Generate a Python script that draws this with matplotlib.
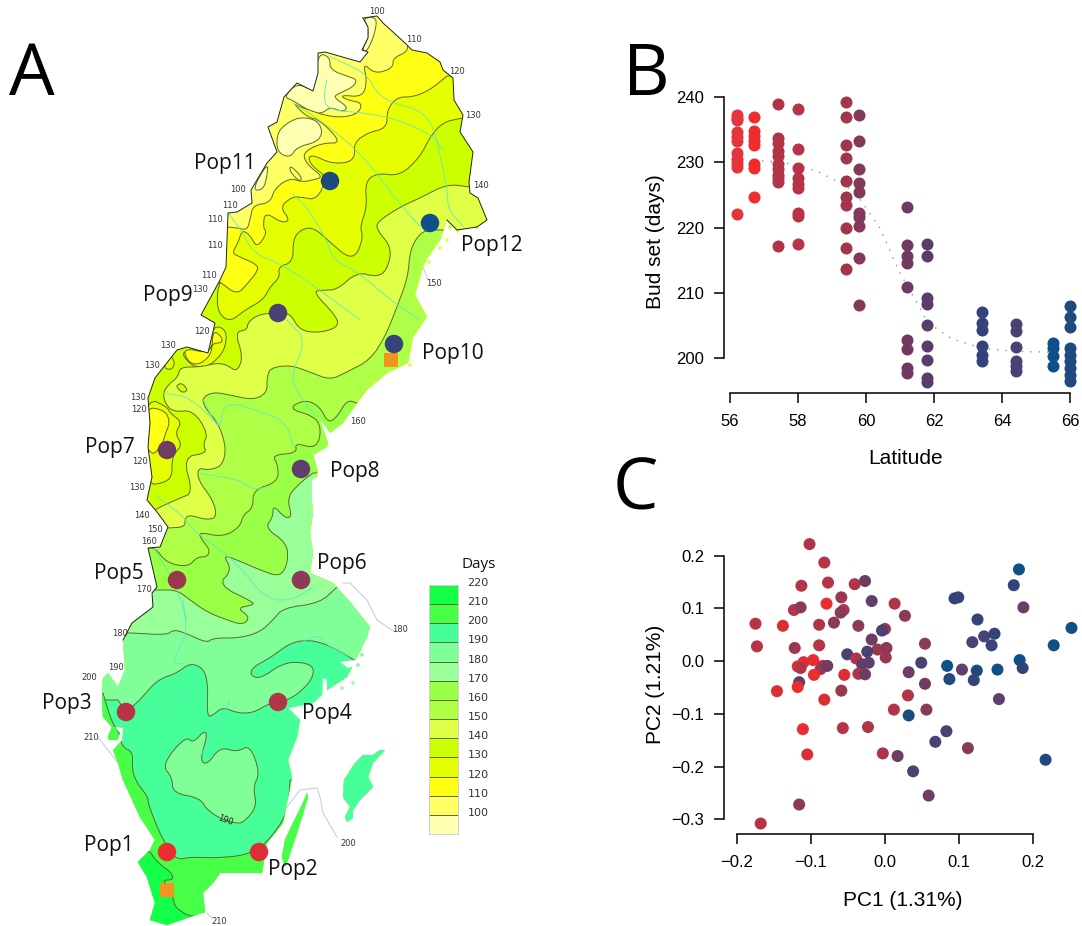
import matplotlib
matplotlib.use("Agg")
import matplotlib.pyplot as plt
from matplotlib.patches import Polygon, PathPatch
from matplotlib.path import Path

W, H = 1082, 926

# ---- panel B: bud set per latitude
lat_cols = [56.2, 56.7, 57.4, 58.0, 59.4, 59.8, 61.2, 61.8, 63.4, 64.4, 65.5, 66.0]
col_colors = ["#E5343A", "#EE2B2D", "#B03549", "#B73348", "#A2374C", "#83395A",
              "#70395F", "#5A3E6A", "#34447A", "#4A4272", "#0F508C", "#1F4A80"]
budset = [
    [237.3, 236.8, 236.5, 234.6, 233.9, 233.3, 231.4, 230.5, 229.9, 229.2, 222.0],
    [237.0, 234.8, 234.0, 233.2, 232.6, 229.7, 229.1, 224.7],
    [238.9, 233.7, 233.0, 231.7, 230.9, 229.7, 228.9, 228.1, 227.6, 226.9, 217.2],
    [238.1, 232.1, 229.1, 227.6, 226.6, 226.1, 222.2, 221.7, 217.5],
    [239.3, 237.0, 232.6, 230.7, 227.2, 224.7, 223.4, 220.0, 216.8, 213.6],
    [237.3, 233.3, 229.0, 226.8, 225.5, 222.2, 221.6, 220.3, 215.4, 208.1],
    [223.2, 217.3, 215.6, 214.6, 210.9, 202.7, 201.4, 198.5, 197.7],
    [217.5, 215.6, 209.2, 208.2, 205.0, 201.9, 199.7, 196.9, 196.3],
    [207.0, 205.4, 204.3, 201.9, 200.5, 199.5],
    [205.2, 204.1, 201.7, 199.5, 198.7, 198.0],
    [202.3, 201.5, 200.3, 198.7],
    [207.9, 206.3, 204.8, 201.5, 200.5, 199.5, 198.5, 197.4, 196.4],
]
curve_lat = [56.7, 57.4, 58.0, 58.6, 59.4, 59.8, 60.4, 61.0, 61.5, 61.8, 62.5, 63.4, 64.4, 65.5]
curve_days = [230.3, 230.0, 229.6, 228.5, 226.5, 224.5, 220.0, 213.0, 208.5, 205.5, 203.0, 201.5, 201.0, 200.9]

# ---- panel C: PCA
pc1 = [-0.102, -0.082, -0.113, -0.077, -0.041, -0.027, -0.059, -0.018, -0.079, 0.013, 0.027, -0.123,
       -0.114, -0.056, -0.060, -0.175, -0.138, -0.089, -0.069, -0.036, 0.0, -0.004, -0.018, -0.173,
       -0.122, -0.089, -0.010, 0.002, -0.024, 0.054, -0.051, -0.039, 0.001, -0.097, -0.110, -0.118,
       -0.114, -0.084, -0.087, -0.078, -0.031, -0.022, 0.049, -0.096, -0.055, -0.036, -0.027, 0.032,
       0.054, -0.116, -0.118, -0.146, -0.059, -0.082, 0.031, 0.012, 0.056, 0.032, -0.111, -0.057,
       -0.023, 0.083, 0.068, 0.112, -0.003, -0.105, 0.017, 0.038, 0.059, -0.116, -0.168, 0.181,
       0.174, 0.094, 0.099, 0.187, 0.125, 0.134, 0.148, 0.118, 0.144, 0.252, 0.228, 0.182,
       0.186, 0.084, 0.104, 0.124, 0.152, 0.087, 0.120, 0.154, 0.217]
pc2 = [0.222, 0.187, 0.143, 0.149, 0.146, 0.152, 0.121, 0.114, 0.109, 0.109, 0.086, 0.097,
       0.102, 0.097, 0.092, 0.071, 0.067, 0.069, 0.073, 0.067, 0.061, 0.058, 0.041, 0.028,
       0.025, 0.030, 0.022, 0.025, 0.018, 0.033, 0.013, 0.005, 0.007, 0.002, -0.002, -0.010,
       -0.013, -0.009, -0.015, -0.009, -0.006, -0.003, -0.003, -0.026, -0.026, -0.024, -0.025, -0.021,
       -0.043, -0.040, -0.049, -0.057, -0.056, -0.073, -0.065, -0.092, -0.092, -0.103, -0.129, -0.127,
       -0.125, -0.133, -0.153, -0.165, -0.175, -0.177, -0.180, -0.209, -0.255, -0.272, -0.308, 0.174,
       0.144, 0.119, 0.121, 0.102, 0.079, 0.047, 0.052, 0.036, 0.030, 0.063, 0.030, 0.002,
       -0.013, -0.009, -0.016, -0.018, -0.016, -0.034, -0.036, -0.072, -0.187]
pc_pop = [4, 3, 3, 3, 4, 7, 5, 8, 1, 4, 6, 3, 6, 4, 6, 3, 2, 4, 6, 6, 5, 9, 7, 3, 5, 3, 5, 6, 9, 6, 9,
          4, 5, 1, 2, 2, 4, 3, 5, 7, 8, 8, 9, 1, 2, 4, 7, 7, 7, 8, 1, 2, 5, 2, 4, 3, 6, 11, 1, 3, 4,
          9, 9, 6, 4, 2, 7, 9, 7, 6, 3, 12, 10, 10, 10, 7, 10, 9, 10, 9, 10, 12, 12, 12, 10, 12, 8,
          11, 12, 11, 10, 8, 11]

# ---- panel A: populations (pixel positions on the map image)
pop_names = ["Pop1", "Pop2", "Pop3", "Pop4", "Pop5", "Pop6", "Pop7", "Pop8", "Pop9", "Pop10", "Pop11", "Pop12"]
pop_x = [167, 259, 126, 278, 177, 301, 167, 301, 278, 394, 330, 430]
pop_y = [852, 852, 712, 702, 580, 580, 450, 469, 313, 344, 181, 223]
pop_colors = ["#EC2D30", "#DC2F35", "#B73348", "#B03549", "#9A3850", "#8B3A5A",
              "#6F3C62", "#5F3F6C", "#4A4272", "#34447A", "#1F4A80", "#105088"]
pop_label_x = [109, 293, 67, 327, 119, 342, 110, 355, 168, 453, 225, 492]
pop_label_y = [846, 870, 704, 714, 573, 563, 448, 472, 296, 353, 163, 245]
site_x = [391, 167]
site_y = [360, 890]

legend_levels = [220, 210, 200, 190, 180, 170, 160, 150, 140, 130, 120, 110, 100]
legend_colors = ["#14FF47", "#47FF47", "#47FF99", "#80FF99", "#99FF99", "#99FF47", "#B0FF47",
                 "#E0FF47", "#CCFF00", "#E6FF00", "#FFFF14", "#FFFF66", "#FFFFB2"]
band = dict(zip(legend_levels, legend_colors))

contour_labels = [("100", 377, 11), ("110", 414, 40), ("120", 457, 71), ("130", 473, 115), ("140", 481, 186),
                  ("150", 434, 283), ("100", 238, 190), ("110", 230, 206), ("110", 215, 220), ("110", 215, 246),
                  ("110", 209, 275), ("130", 200, 289), ("120", 202, 331), ("130", 168, 345), ("130", 152, 366),
                  ("130", 138, 398), ("120", 139, 410), ("120", 140, 461), ("130", 137, 487), ("140", 142, 516),
                  ("150", 155, 529), ("160", 149, 541), ("170", 144, 590), ("160", 358, 422), ("180", 120, 633),
                  ("190", 116, 668), ("200", 89, 677), ("210", 91, 737), ("180", 400, 630), ("200", 348, 844),
                  ("210", 219, 921)]

coast_north = [(363, 18), (377, 16), (383, 23), (393, 32), (405, 43), (412, 50), (427, 53), (440, 62), (443, 70),
               (453, 78), (454, 100), (463, 115), (460, 132), (473, 152), (469, 182), (470, 193), (478, 198),
               (487, 220), (477, 227), (457, 230), (447, 220)]
coast_east = [(440, 240), (428, 257), (423, 267), (415, 295), (427, 317), (413, 337), (408, 363), (387, 373),
              (367, 390), (357, 403), (343, 423), (330, 433), (327, 447), (313, 455), (318, 472), (312, 480),
              (312, 503), (313, 513), (310, 533), (313, 553), (310, 573), (333, 583), (350, 602), (370, 627),
              (367, 637), (357, 657), (347, 677), (327, 690), (313, 703), (288, 708), (300, 720), (297, 737),
              (288, 760), (292, 777), (287, 803), (283, 823), (267, 843), (262, 873), (220, 873), (213, 883),
              (203, 893), (205, 912), (187, 918), (167, 925), (150, 920), (155, 903), (147, 877), (138, 862),
              (150, 850), (155, 840), (140, 817), (123, 780), (118, 763), (112, 747), (108, 737), (112, 727),
              (103, 717), (102, 697), (103, 678), (108, 673), (118, 687), (125, 670)]
coast_west = [(123, 640), (132, 623), (153, 607), (152, 593), (157, 587), (148, 548), (160, 547), (168, 527),
              (157, 512), (147, 500), (152, 477), (148, 447), (150, 423), (148, 398), (155, 378), (177, 350),
              (187, 347), (208, 353), (215, 323), (201, 315), (220, 280), (226, 267), (228, 213), (237, 212),
              (252, 203), (251, 190), (267, 163), (277, 152), (268, 127), (277, 122), (284, 97), (297, 83),
              (313, 91), (318, 73), (318, 53), (325, 52), (360, 62), (368, 52), (362, 50), (368, 38), (368, 27),
              (363, 18)]
oland = [(307, 793), (308, 797), (298, 830), (288, 860), (285, 867), (282, 857), (285, 840), (293, 823), (303, 803)]
gotland = [(380, 750), (385, 750), (373, 763), (368, 777), (373, 787), (360, 800), (353, 810), (353, 818), (347, 822),
           (345, 817), (350, 807), (343, 797), (344, 780), (355, 763), (363, 755), (373, 755)]

# isolines, each runs coast to coast, region south of it is the warmer band
line_110 = [(408, 43), (407, 52), (393, 58), (393, 68), (375, 74), (363, 63), (367, 80), (363, 97), (340, 95), (347, 100),
            (363, 103), (357, 115), (333, 118), (300, 107), (293, 103), (307, 117), (320, 120), (342, 143), (323, 143),
            (307, 150), (303, 157), (310, 167), (323, 177), (313, 180), (302, 182), (290, 178), (275, 188), (270, 203),
            (253, 205), (250, 220), (247, 230), (237, 228), (228, 227)]
line_120 = [(447, 76), (430, 90), (413, 97), (397, 97), (387, 110), (387, 128), (367, 133), (354, 143), (355, 157),
            (347, 163), (330, 163), (313, 155), (308, 158), (313, 167), (327, 177), (317, 200), (300, 197), (292, 197),
            (280, 207), (290, 220), (282, 223), (265, 212), (263, 227), (267, 233), (257, 248), (250, 235), (242, 230),
            (238, 243), (232, 253), (240, 257), (258, 265), (257, 272), (248, 283), (237, 295), (220, 282)]
line_130 = [(463, 118), (443, 122), (430, 137), (420, 157), (400, 176), (377, 173), (365, 182), (367, 207), (360, 227),
            (363, 237), (357, 255), (347, 257), (330, 242), (313, 227), (300, 230), (293, 240), (293, 262), (278, 267),
            (280, 277), (270, 287), (263, 300), (245, 310), (230, 322), (218, 313), (217, 293), (220, 283)]
line_140 = [(470, 187), (447, 184), (420, 198), (400, 207), (377, 222), (377, 230), (392, 248), (387, 270), (377, 277),
            (357, 272), (337, 290), (322, 290), (313, 292), (338, 318), (337, 328), (317, 333), (300, 330), (292, 317),
            (287, 313), (270, 313), (258, 315), (248, 322), (247, 330), (235, 332), (243, 357), (237, 372), (227, 365),
            (217, 363), (200, 367), (180, 367), (178, 377), (168, 385), (163, 393), (165, 403), (173, 412), (193, 410),
            (208, 433), (203, 445), (207, 453), (183, 457), (193, 493), (180, 498), (160, 507), (155, 510)]
line_150 = [(430, 230), (420, 233), (410, 250), (408, 277), (397, 307), (385, 337), (370, 360), (347, 372), (330, 380),
            (310, 372), (290, 365), (270, 368), (267, 378), (267, 393), (253, 400), (230, 395), (213, 392), (202, 398),
            (205, 408), (218, 423), (225, 443), (225, 457), (220, 467), (208, 470), (198, 468), (198, 480), (213, 500),
            (217, 517), (207, 520), (190, 515), (185, 518), (185, 527), (168, 528)]
line_160 = [(357, 403), (347, 400), (337, 417), (328, 423), (320, 407), (307, 400), (293, 405), (293, 410), (310, 415),
            (320, 423), (320, 440), (313, 448), (295, 443), (297, 453), (272, 455), (278, 465), (278, 482), (253, 490),
            (253, 508), (243, 515), (240, 527), (223, 537), (198, 532), (202, 540), (210, 550), (207, 557), (197, 557),
            (188, 567), (167, 563), (155, 548), (148, 548)]
line_170 = [(313, 473), (300, 483), (287, 497), (292, 517), (285, 518), (273, 505), (273, 517), (265, 528), (287, 543),
            (288, 563), (280, 577), (260, 570), (237, 560), (223, 555), (232, 570), (218, 585), (253, 602), (253, 605),
            (237, 608), (250, 617), (243, 625), (227, 620), (207, 612), (190, 600), (177, 590), (157, 590), (152, 590)]
line_180 = [(345, 580), (337, 587), (320, 603), (283, 608), (273, 620), (260, 632), (240, 638), (213, 638), (207, 643),
            (183, 632), (173, 630), (167, 635), (132, 633)]
line_190 = [(357, 662), (343, 653), (323, 643), (307, 640), (290, 643), (270, 658), (253, 667), (250, 675), (260, 679),
            (283, 663), (303, 662), (315, 668), (310, 683), (290, 700), (270, 703), (253, 713), (237, 713), (223, 707),
            (213, 715), (207, 717), (208, 683), (203, 668), (190, 663), (177, 673), (157, 680), (140, 700), (126, 712),
            (118, 700)]
line_200 = [(103, 693), (112, 723), (120, 733), (122, 747), (133, 752), (132, 770), (137, 783), (148, 797), (148, 803),
            (157, 827), (167, 847), (177, 860), (190, 857), (217, 858), (247, 855), (267, 843), (288, 813), (290, 780)]
line_210 = [(150, 852), (158, 863), (172, 873), (173, 880), (163, 880), (167, 885), (173, 897), (175, 908), (193, 918),
            (207, 912)]

# closed patches painted in order, they sit inside one band
pale_top = [(363, 18), (377, 17), (375, 33), (367, 52), (362, 50), (368, 38), (368, 27)]
pale_nw = [(318, 53), (330, 57), (330, 70), (350, 77), (357, 80), (353, 87), (340, 93), (333, 97), (348, 107), (343, 112),
           (330, 107), (323, 113), (313, 113), (292, 100), (284, 97), (297, 83), (313, 91)]
pale_mid = [(300, 117), (317, 120), (323, 132), (317, 142), (297, 147), (290, 158), (277, 152), (277, 133), (287, 123)]
pale_low = [(252, 190), (263, 190), (267, 177), (268, 162)]
finger = [(290, 165), (302, 177), (300, 182), (290, 172)]
e6_bay = [(213, 325), (227, 330), (225, 350), (213, 363), (203, 368), (190, 365), (180, 350), (208, 353)]
yellow_bay = [(183, 348), (208, 353), (213, 343), (222, 343), (222, 337), (213, 330), (212, 350), (208, 358), (198, 365), (188, 362)]
e6_small = [(163, 368), (170, 355), (175, 362), (172, 370)]
ring_small = [(177, 385), (182, 383), (188, 390), (183, 393), (177, 388)]
e6_west = [(148, 398), (167, 407), (170, 413), (182, 422), (175, 433), (182, 445), (175, 453), (172, 460), (172, 477),
           (163, 483), (148, 485), (140, 440)]
yellow_west = [(145, 407), (165, 410), (170, 422), (165, 435), (163, 442), (158, 450), (152, 455), (142, 440)]
pale_south = [(163, 767), (173, 750), (187, 737), (193, 743), (205, 730), (207, 737), (200, 760), (207, 765), (220, 747),
              (237, 752), (250, 745), (260, 773), (253, 787), (257, 807), (243, 823), (235, 823), (223, 820), (207, 810),
              (200, 798), (173, 793), (172, 777)]

# white inlets cut out of the land
inlets = [[(115, 727), (123, 728), (122, 740), (113, 750), (107, 740), (118, 740), (120, 733)],
          [(320, 420), (333, 437), (328, 442)],
          [(323, 678), (327, 680), (327, 697), (322, 700)],
          [(340, 662), (356, 660), (358, 665), (348, 668)]]
# small islands off the east coast: x, y, band
speck_x = [458, 450, 477, 440, 447, 429, 410, 342, 353, 360, 362, 358, 316]
speck_y = [230, 227, 227, 248, 240, 262, 365, 688, 683, 649, 655, 665, 476]
speck_band = [140, 140, 140, 150, 150, 150, 150, 180, 180, 190, 190, 190, 160]

# rivers (crop x, crop y)
rivers_crop1 = [[(690, 170), (800, 220), (830, 280), (880, 310), (960, 330), (1000, 380), (1015, 440), (1040, 560), (1045, 630), (1090, 680)],
                [(680, 240), (670, 300), (690, 330), (800, 340), (880, 355), (990, 400), (1030, 450)],
                [(580, 310), (660, 360), (760, 440), (830, 520), (890, 600), (960, 680)],
                [(385, 640), (430, 700), (460, 760), (560, 800), (700, 900), (780, 960)],
                [(580, 585), (620, 620), (680, 720), (700, 780), (780, 820), (870, 900), (960, 960)]]
rivers_crop2 = [[(620, 60), (680, 120), (630, 230), (660, 290), (710, 350)],
                [(370, 300), (420, 400), (430, 300), (560, 340), (620, 370), (640, 440)],
                [(250, 280), (330, 290), (420, 380)],
                [(220, 740), (290, 860), (320, 960)],
                [(360, 520), (480, 540), (520, 570), (560, 560)],
                [(230, 590), (300, 640), (350, 700), (420, 750), (470, 790), (560, 900), (640, 900), (700, 860)]]
rivers_crop3 = [[(430, 0), (440, 100), (420, 140), (395, 190), (430, 190)],
                [(300, 350), (390, 310), (460, 290), (500, 300)],
                [(480, 470), (520, 400), (570, 300)],
                [(740, 150), (840, 100), (850, 130), (930, 170)]]

# thin grey leaders to the contour labels outside the land
leader_180 = [(343, 583), (350, 583), (367, 600), (377, 620), (395, 632)]
leader_200 = [(287, 807), (300, 790), (317, 788), (320, 797), (323, 813), (337, 837)]
leader_150 = [(423, 267), (428, 280)]
leader_210w = [(98, 737), (118, 763)]
leader_210s = [(207, 913), (212, 918)]

plt.rcParams["font.family"] = ["Liberation Sans", "DejaVu Sans"]


def chaikin(pts, closed=False, n=2):
    # round off the hand read vertices
    for _ in range(n):
        out = [pts[0]] if not closed else []
        count = len(pts) if closed else len(pts) - 1
        for i in range(count):
            (x0, y0), (x1, y1) = pts[i], pts[(i + 1) % len(pts)]
            out.append((0.75 * x0 + 0.25 * x1, 0.75 * y0 + 0.25 * y1))
            out.append((0.25 * x0 + 0.75 * x1, 0.25 * y0 + 0.75 * y1))
        if not closed:
            out.append(pts[-1])
        pts = out
    return pts


def band_polygon(line, xmax=520):
    # close the isoline around the south of the map
    x0, y0 = line[0]
    x1, y1 = line[-1]
    smooth = chaikin(line)
    if x0 > x1:
        return smooth + [(60, y1), (60, 930), (xmax, 930), (xmax, y0)]
    return smooth + [(xmax, y1), (xmax, 930), (60, 930), (60, y0)]


def from_crop(pts, x0, y0):
    return [(x0 + x / 3, y0 + y / 3) for x, y in pts]


fig = plt.figure(figsize=(W / 100, H / 100), dpi=100)

# map drawn in image pixels
ax_map = fig.add_axes([0, 0, 1, 1])
ax_map.set_xlim(0, W)
ax_map.set_ylim(H, 0)
ax_map.axis("off")

mainland = coast_north + coast_east + coast_west
land = Path.make_compound_path(Path(mainland + [mainland[0]], closed=True),
                               Path(oland + [oland[0]], closed=True),
                               Path(gotland + [gotland[0]], closed=True))
land_patch = PathPatch(land, facecolor=band[110], edgecolor="none", zorder=1)
ax_map.add_patch(land_patch)

LINE = "#5A6B2A"
blobs = [(pale_top, band[100]), (pale_nw, band[100]), (pale_mid, band[100]), (pale_low, band[100])]
layers = [(chaikin(p, closed=True), c) for p, c in blobs]
layers += [(band_polygon(line_110), band[120]), (chaikin(finger, closed=True), band[110]),
           (band_polygon(line_120), band[130]),
           (band_polygon(line_130), band[140]), (chaikin(e6_bay, closed=True), band[130]),
           (chaikin(yellow_bay, closed=True), band[120]), (chaikin(e6_small, closed=True), band[130]),
           (chaikin(e6_west, closed=True), band[130]), (chaikin(yellow_west, closed=True), band[120]),
           (band_polygon(line_140), band[150]), (chaikin(ring_small, closed=True), band[140]),
           (band_polygon(line_150), band[160]),
           (band_polygon(line_160), band[170]),
           (band_polygon(line_170), band[180]),
           (band_polygon(line_180), band[190]),
           (band_polygon(line_190), band[200]), (chaikin(pale_south, closed=True), band[190]),
           (band_polygon(line_200, xmax=330), band[210]),
           (band_polygon(line_210, xmax=230), band[220])]
for pts, color in layers:
    p = Polygon(pts, closed=True, facecolor=color, edgecolor=LINE, linewidth=0.7, zorder=2)
    ax_map.add_patch(p)
    p.set_clip_path(land_patch)

for group, x0, y0 in [(rivers_crop1, 100, 0), (rivers_crop2, 80, 300), (rivers_crop3, 40, 600)]:
    for river in group:
        pts = chaikin(from_crop(river, x0, y0))
        ln, = ax_map.plot([q[0] for q in pts], [q[1] for q in pts], color="#5FE8C0", lw=0.6, zorder=3)
        ln.set_clip_path(land_patch)

for inlet in inlets:
    ax_map.add_patch(Polygon(inlet, closed=True, facecolor="white", edgecolor="none", zorder=3.5))
ax_map.scatter(speck_x, speck_y, s=7, color=[band[b] for b in speck_band], linewidths=0, zorder=3.5)

# only the land border and the north coast carry a dark outline
for coast in [coast_north, coast_west]:
    ax_map.plot([q[0] for q in coast], [q[1] for q in coast], color="#222222", lw=0.7, zorder=4)

for leader in [leader_180, leader_200, leader_150, leader_210w, leader_210s]:
    ax_map.plot([q[0] for q in leader], [q[1] for q in leader], color="#C8C8C8", lw=0.7, zorder=1)

for txt, x, y in contour_labels:
    ax_map.text(x, y, txt, fontsize=6, family="DejaVu Sans", color="#333333", ha="center", va="center", zorder=5)
ax_map.text(225, 820, "190", fontsize=6, family="DejaVu Sans", color="#222222", rotation=-20,
            ha="center", va="center", zorder=5)

ax_map.scatter(site_x, site_y, s=104, marker="s", color="#F39322", linewidths=0, zorder=6)
ax_map.scatter(pop_x, pop_y, s=177, color=pop_colors, linewidths=0, zorder=7)
for name, x, y in zip(pop_names, pop_label_x, pop_label_y):
    ax_map.text(x, y, name, fontsize=15, family="Open Sans", color="#111111", ha="center", va="center", zorder=8)

# legend
leg_top, leg_step = 585, 19.15
for i, (level, color) in enumerate(zip(legend_levels, legend_colors)):
    y = leg_top + i * leg_step
    ax_map.bar(443.5, leg_step, width=29, bottom=y, color=color, edgecolor="none", zorder=2)
    if i > 0:
        ax_map.plot([429, 458], [y, y], color=LINE, lw=0.7, zorder=3)
    ax_map.text(478, y - 2, str(level), fontsize=8, family="DejaVu Sans", color="#333333",
                ha="center", va="center")
ax_map.plot([429, 429, 458, 458, 429], [585, 834, 834, 585, 585], color="#D0D0D0", lw=0.7, zorder=3)
ax_map.text(479, 565, "Days", fontsize=11, family="Open Sans", color="#111111", ha="center", va="center")

for letter, x, y in [("A", 32, 76), ("B", 646, 76), ("C", 635, 491)]:
    ax_map.text(x, y, letter, fontsize=52, family="Open Sans", color="black", ha="center", va="center")


def data_axes(x0, x1, ytop, ybot):
    ax = fig.add_axes([x0 / W, 1 - ybot / H, (x1 - x0) / W, (ybot - ytop) / H])
    ax.patch.set_alpha(0)
    ax.spines["top"].set_visible(False)
    ax.spines["right"].set_visible(False)
    for s in ["left", "bottom"]:
        ax.spines[s].set_linewidth(1.1)
    ax.tick_params(length=7.2, width=1.1, labelsize=12, pad=7)
    ax.tick_params(axis="x", pad=8)
    return ax


# panel B
ax_b = data_axes(730, 1070, 97, 358)
ax_b.set_xlim(56, 66)
ax_b.set_ylim(200, 240)
ax_b.plot(curve_lat, curve_days, color="#909090", lw=1.0, ls=(0, (1, 5)), zorder=1, clip_on=False)
for lat, days, color in zip(lat_cols, budset, col_colors):
    ax_b.scatter([lat] * len(days), days, s=75, color=color, linewidths=0, clip_on=False, zorder=2)
ax_b.set_xticks([56, 58, 60, 62, 64, 66])
ax_b.set_yticks([200, 210, 220, 230, 240])
ax_b.spines["left"].set_position(("outward", 4.3))
ax_b.spines["bottom"].set_position(("outward", 25.2))
ax_b.set_xlabel("Latitude", fontsize=15)
ax_b.xaxis.set_label_coords(0.515, -0.349)
ax_b.set_ylabel("Bud set (days)", fontsize=15)
ax_b.yaxis.set_label_coords(-0.191, 0.444)

# panel C
ax_c = data_axes(737, 1033, 555.7, 819.3)
ax_c.set_xlim(-0.2, 0.2)
ax_c.set_ylim(-0.3, 0.2)
ax_c.scatter(pc1, pc2, s=75, color=[pop_colors[p - 1] for p in pc_pop], linewidths=0, clip_on=False, zorder=2)
ax_c.set_xticks([-0.2, -0.1, 0.0, 0.1, 0.2])
ax_c.set_yticks([-0.3, -0.2, -0.1, 0.0, 0.1, 0.2])
ax_c.set_xticklabels(["\u22120.2", "\u22120.1", "0.0", "0.1", "0.2"])
ax_c.set_yticklabels(["\u22120.3", "\u22120.2", "\u22120.1", "0.0", "0.1", "0.2"])
ax_c.spines["left"].set_position(("outward", 9.4))
ax_c.spines["bottom"].set_position(("outward", 10.6))
ax_c.set_xlabel("PC1 (1.31%)", fontsize=15)
ax_c.xaxis.set_label_coords(0.561, -0.272)
ax_c.set_ylabel("PC2 (1.21%)", fontsize=15)
ax_c.yaxis.set_label_coords(-0.243, 0.513)

fig.savefig("out.png", dpi=100)
